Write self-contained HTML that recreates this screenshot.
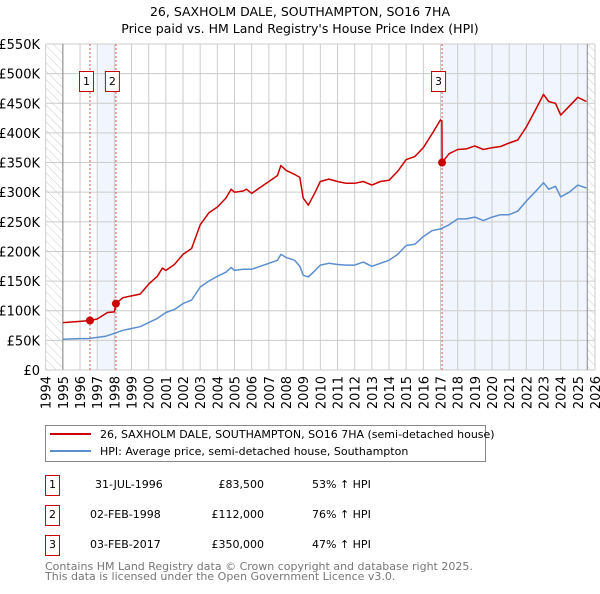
<!DOCTYPE html>
<html><head><meta charset="utf-8"><style>
body{margin:0;background:#fff;font-family:"DejaVu Sans","Liberation Sans",sans-serif;}
svg text{font-family:"DejaVu Sans","Liberation Sans",sans-serif;}
</style></head><body>
<svg id="chart" width="600" height="590" xmlns="http://www.w3.org/2000/svg">
<defs><pattern id="hatch" width="6" height="6" patternUnits="userSpaceOnUse" patternTransform="rotate(-45)"><line x1="0" y1="0" x2="0" y2="6" stroke="#ccc" stroke-width="1"/></pattern></defs>
<text x="300" y="16" text-anchor="middle" font-size="12.5">26, SAXHOLM DALE, SOUTHAMPTON, SO16 7HA</text>
<text x="300" y="33" text-anchor="middle" font-size="12.5">Price paid vs. HM Land Registry's House Price Index (HPI)</text>
<g id="plot"></g>
<g>
<rect x="45.5" y="425.5" width="440" height="36" fill="#fff" stroke="#888"/>
<line x1="50" y1="434" x2="91" y2="434" stroke="#cc0000" stroke-width="2"/>
<text x="100" y="438" font-size="11">26, SAXHOLM DALE, SOUTHAMPTON, SO16 7HA (semi-detached house)</text>
<line x1="50" y1="451" x2="91" y2="451" stroke="#5b8fd0" stroke-width="2"/>
<text x="100" y="455" font-size="11">HPI: Average price, semi-detached house, Southampton</text>
</g>
<g font-size="11">
<rect x="45.5" y="475.5" width="14" height="20" fill="#fff" stroke="#cc0000"/><text x="52.5" y="488" text-anchor="middle">1</text>
<text x="95" y="488">31-JUL-1996</text><text x="264" y="488" text-anchor="end">£83,500</text><text x="312" y="488">53% ↑ HPI</text>
<rect x="45.5" y="505.5" width="14" height="20" fill="#fff" stroke="#cc0000"/><text x="52.5" y="518" text-anchor="middle">2</text>
<text x="90" y="518">02-FEB-1998</text><text x="264" y="518" text-anchor="end">£112,000</text><text x="312" y="518">76% ↑ HPI</text>
<rect x="45.5" y="535.5" width="14" height="20" fill="#fff" stroke="#cc0000"/><text x="52.5" y="548" text-anchor="middle">3</text>
<text x="90" y="548">03-FEB-2017</text><text x="264" y="548" text-anchor="end">£350,000</text><text x="312" y="548">47% ↑ HPI</text>
</g>
<text x="45" y="570" font-size="11" fill="#777">Contains HM Land Registry data © Crown copyright and database right 2025.</text>
<text x="45" y="580" font-size="11" fill="#777">This data is licensed under the Open Government Licence v3.0.</text>
</svg>
<script>
const yTicks=[0,50,100,150,200,250,300,350,400,450,500,550];
const yTickLabels=["£0","£50K","£100K","£150K","£200K","£250K","£300K","£350K","£400K","£450K","£500K","£550K"];
const xYears=[1994,1995,1996,1997,1998,1999,2000,2001,2002,2003,2004,2005,2006,2007,2008,2009,2010,2011,2012,2013,2014,2015,2016,2017,2018,2019,2020,2021,2022,2023,2024,2025,2026];
const hpiT=[1995,1996,1996.5,1997,1997.5,1998,1998.5,1999,1999.5,2000,2000.5,2001,2001.5,2002,2002.5,2003,2003.5,2004,2004.5,2004.8,2005,2005.5,2006,2006.5,2007,2007.5,2007.7,2008,2008.5,2008.8,2009,2009.3,2009.7,2010,2010.5,2011,2011.5,2012,2012.5,2013,2013.5,2014,2014.5,2015,2015.5,2016,2016.5,2017,2017.5,2018,2018.5,2019,2019.5,2020,2020.5,2021,2021.5,2022,2022.5,2023,2023.3,2023.7,2024,2024.5,2025,2025.5];
const hpiV=[52,53,53,55,57,62,67,70,73,80,87,97,102,112,118,140,150,158,165,173,168,170,170,175,180,185,195,190,185,175,160,157,168,177,180,178,177,177,182,175,180,185,195,210,212,225,235,238,245,255,255,258,252,258,262,262,268,285,300,316,305,310,292,300,312,307];
const propT=[1995,1996,1996.58,1997,1997.6,1998.0,1998.09,1998.5,1999,1999.5,2000,2000.5,2000.8,2001,2001.5,2002,2002.5,2003,2003.5,2004,2004.5,2004.8,2005,2005.5,2005.7,2006,2006.5,2007,2007.5,2007.7,2008,2008.5,2008.8,2009,2009.3,2009.7,2010,2010.5,2011,2011.5,2012,2012.5,2013,2013.5,2014,2014.5,2015,2015.5,2016,2016.5,2017.0,2017.08,2017.09,2017.5,2018,2018.5,2019,2019.5,2020,2020.5,2021,2021.5,2022,2022.5,2023,2023.3,2023.7,2024,2024.5,2025,2025.5];
const propV=[80,82,83.5,86,97,98,112,122,125,128,145,158,172,168,178,195,205,245,265,275,290,305,300,302,305,298,308,318,328,345,337,330,325,290,278,300,318,322,318,315,315,318,312,318,320,335,355,360,375,398,422,420,350,365,372,373,378,372,375,377,383,388,410,437,465,453,450,430,445,460,453];
const saleT=[1996.58,1998.09,2017.09];
const saleV=[83.5,112,350];
const saleLabels=["1","2","3"];

const X0=45.7,X1=595,Y0=370,Y1=44;
const xs=t=>X0+(t-1994)*(X1-X0)/32;
const ys=v=>Y0-v*(Y0-Y1)/550;
const NS="http://www.w3.org/2000/svg";
const g=document.getElementById('plot');
function mk(tag,attrs,parent){const e=document.createElementNS(NS,tag);for(const k in attrs)e.setAttribute(k,attrs[k]);(parent||g).appendChild(e);return e;}
let e=mk('rect',{x:xs(1997),y:Y1,width:xs(saleT[1])-xs(1997),height:Y0-Y1,fill:'#eef3fc',opacity:0.8});


e=mk('rect',{x:xs(saleT[2]),y:Y1,width:xs(2025.55)-xs(saleT[2]),height:Y0-Y1,fill:'#eef3fc',opacity:0.8});


e=mk('rect',{x:X0,y:Y1,width:xs(1995)-X0,height:Y0-Y1,fill:'url(#hatch)'});


e=mk('rect',{x:xs(2025.55),y:Y1,width:X1-xs(2025.55),height:Y0-Y1,fill:'url(#hatch)'});


yTicks.forEach((v,i)=>{
  const l=mk('line',{x1:X0,x2:X1,y1:ys(v),y2:ys(v),stroke:'#ccc'});
  
  
  const t=mk('text',{x:40,y:ys(v)+5,'text-anchor':'end','font-size':13});
  t.textContent=yTickLabels[i];
  
  
});
xYears.forEach(yr=>{
  const l=mk('line',{x1:xs(yr),x2:xs(yr),y1:Y1,y2:Y0,stroke:'#ccc'});
  
  
  const t=mk('text',{x:0,y:0,'text-anchor':'end','font-size':13,transform:`translate(${xs(yr)+5},376) rotate(-90)`});
  t.textContent=yr;
  
  
});
e=mk('line',{x1:xs(1995),x2:xs(1995),y1:Y1,y2:Y0,stroke:'#888'});


e=mk('line',{x1:xs(2025.55),x2:xs(2025.55),y1:Y1,y2:Y0,stroke:'#888'});


saleT.forEach((t,i)=>{
  const l=mk('line',{x1:xs(t),x2:xs(t),y1:Y1,y2:Y0,stroke:'#e05050','stroke-dasharray':'2,2'});
  
  
});
function path(T,V,col,name){
  const d=T.map((t,i)=>(i?'L':'M')+xs(t).toFixed(1)+','+ys(V[i]).toFixed(1)).join('');
  const p=mk('path',{d:d,fill:'none',stroke:col,'stroke-width':1.5,'stroke-linejoin':'round'});
  
  
}
path(hpiT,hpiV,'#5b8fd0','hpi-line');
path(propT,propV,'#cc0000','property-price-line');
saleT.forEach((t,i)=>{
  const c=mk('circle',{cx:xs(t),cy:ys(saleV[i]),r:4,fill:'#cc0000'});
  
  
  const r=mk('rect',{x:xs(t)-10.5,y:71.5,width:14,height:20,fill:'#fff',stroke:'#cc0000'});
  
  
  const tx=mk('text',{x:xs(t)-3.5,y:85,'text-anchor':'middle','font-size':11});
  tx.textContent=saleLabels[i];
  
  
});
</script>
</body></html>
